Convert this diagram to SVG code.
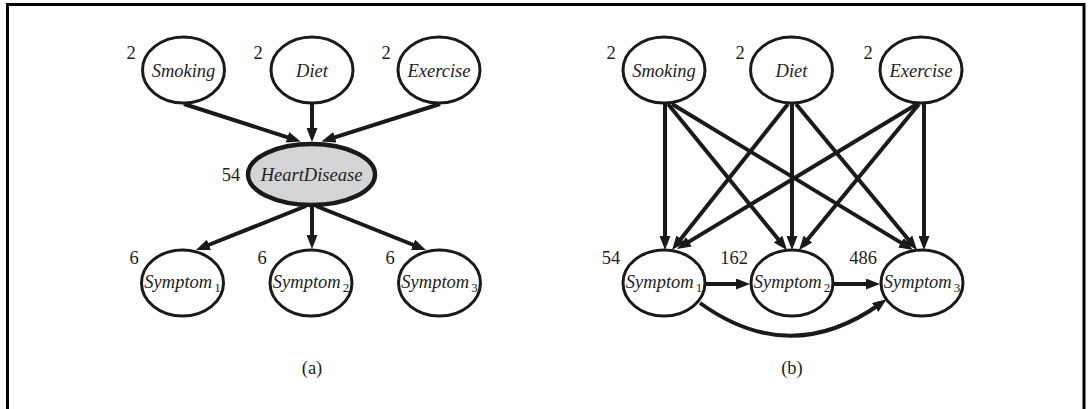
<svg xmlns="http://www.w3.org/2000/svg" width="1089" height="409" viewBox="0 0 1089 409">
<style>
.frame{fill:none;stroke:#000;stroke-width:3}
.node{fill:#fff;stroke:#1a1a1a;stroke-width:3}
.hd{fill:#d3d4d6;stroke:#1a1a1a;stroke-width:4.5}
.lbl{font-family:"Liberation Serif","Times New Roman",serif;font-style:italic;font-size:18.5px;fill:#231f20;text-anchor:middle}
.num{font-family:"Liberation Serif","Times New Roman",serif;font-size:18.5px;fill:#231f20;text-anchor:middle}
.sub{font-style:normal;font-size:13px}
.edge{fill:none;stroke:#1a1a1a;stroke-width:4;marker-end:url(#ah)}
</style>
<defs>
<marker id="ah" viewBox="0 0 14 11" markerWidth="14" markerHeight="11" markerUnits="userSpaceOnUse" refX="6" refY="5.5" orient="auto">
<path d="M0,0 L14,5.5 L0,11 z" fill="#1a1a1a"/>
</marker>
</defs>
<rect width="1089" height="409" fill="#fff"/>
<path class="frame" d="M7.5,409 V4.5 H1084 V409"/>

<g id="edges">
<line class="edge" x1="184" y1="104" x2="293.1" y2="139.1"/>
<line class="edge" x1="312" y1="104" x2="312" y2="134"/>
<line class="edge" x1="440" y1="104" x2="329.1" y2="139.1"/>
<line class="edge" x1="306" y1="206" x2="203.4" y2="247"/>
<line class="edge" x1="312" y1="206" x2="312" y2="241"/>
<line class="edge" x1="316" y1="206" x2="418.6" y2="247"/>

<line class="edge" x1="665" y1="104" x2="665" y2="242"/>
<line class="edge" x1="668" y1="104" x2="781.9" y2="243.8"/>
<line class="edge" x1="672" y1="104" x2="906.2" y2="245.9"/>
<line class="edge" x1="788" y1="104" x2="677" y2="243.7"/>
<line class="edge" x1="792" y1="104" x2="792" y2="242"/>
<line class="edge" x1="796" y1="104" x2="911.9" y2="243.8"/>
<line class="edge" x1="917" y1="104" x2="683.8" y2="244.9"/>
<line class="edge" x1="919" y1="104" x2="804.1" y2="243.8"/>
<line class="edge" x1="924" y1="104" x2="924" y2="242"/>
<line class="edge" x1="706" y1="284" x2="742" y2="284"/>
<line class="edge" x1="834" y1="284" x2="872" y2="284"/>
<path class="edge" d="M700,303 Q790,368 880,304"/>
</g>

<g id="a-smoking"><ellipse class="node" cx="183.5" cy="70" rx="41" ry="33"/><text class="lbl" x="183.5" y="77">Smoking</text><text class="num" x="131" y="59">2</text></g>
<g id="a-diet"><ellipse class="node" cx="312" cy="70" rx="41" ry="33"/><text class="lbl" x="312" y="77">Diet</text><text class="num" x="258" y="59">2</text></g>
<g id="a-exercise"><ellipse class="node" cx="439" cy="70" rx="41" ry="33"/><text class="lbl" x="439" y="77">Exercise</text><text class="num" x="386" y="59">2</text></g>
<g id="a-heartdisease"><ellipse class="hd" cx="311.5" cy="174.5" rx="63.5" ry="30.5"/><text class="lbl" x="311.5" y="181">HeartDisease</text><text class="num" x="231" y="181">54</text></g>
<g id="a-symptom1"><ellipse class="node" cx="182.5" cy="283" rx="41" ry="33"/><text class="lbl" x="182.5" y="288">Symptom<tspan class="sub" dx="2" dy="4">1</tspan></text><text class="num" x="134" y="264">6</text></g>
<g id="a-symptom2"><ellipse class="node" cx="311" cy="283" rx="41" ry="33"/><text class="lbl" x="311" y="288">Symptom<tspan class="sub" dx="2" dy="4">2</tspan></text><text class="num" x="262" y="264">6</text></g>
<g id="a-symptom3"><ellipse class="node" cx="439.5" cy="283" rx="41" ry="33"/><text class="lbl" x="439.5" y="288">Symptom<tspan class="sub" dx="2" dy="4">3</tspan></text><text class="num" x="390" y="264">6</text></g>
<text class="num" x="312" y="374">(a)</text>

<g id="b-smoking"><ellipse class="node" cx="664" cy="70" rx="41" ry="33"/><text class="lbl" x="664" y="77">Smoking</text><text class="num" x="611" y="59">2</text></g>
<g id="b-diet"><ellipse class="node" cx="791.5" cy="70" rx="41" ry="33"/><text class="lbl" x="791.5" y="77">Diet</text><text class="num" x="740" y="59">2</text></g>
<g id="b-exercise"><ellipse class="node" cx="921" cy="70" rx="41" ry="33"/><text class="lbl" x="921" y="77">Exercise</text><text class="num" x="868" y="59">2</text></g>
<g id="b-symptom1"><ellipse class="node" cx="664" cy="283" rx="41" ry="33"/><text class="lbl" x="664" y="288">Symptom<tspan class="sub" dx="2" dy="4">1</tspan></text><text class="num" x="611" y="264">54</text></g>
<g id="b-symptom2"><ellipse class="node" cx="792" cy="283" rx="41" ry="33"/><text class="lbl" x="792" y="288">Symptom<tspan class="sub" dx="2" dy="4">2</tspan></text><text class="num" x="734" y="264">162</text></g>
<g id="b-symptom3"><ellipse class="node" cx="922" cy="283" rx="41" ry="33"/><text class="lbl" x="922" y="288">Symptom<tspan class="sub" dx="2" dy="4">3</tspan></text><text class="num" x="863" y="264">486</text></g>
<text class="num" x="792" y="374">(b)</text>
</svg>
